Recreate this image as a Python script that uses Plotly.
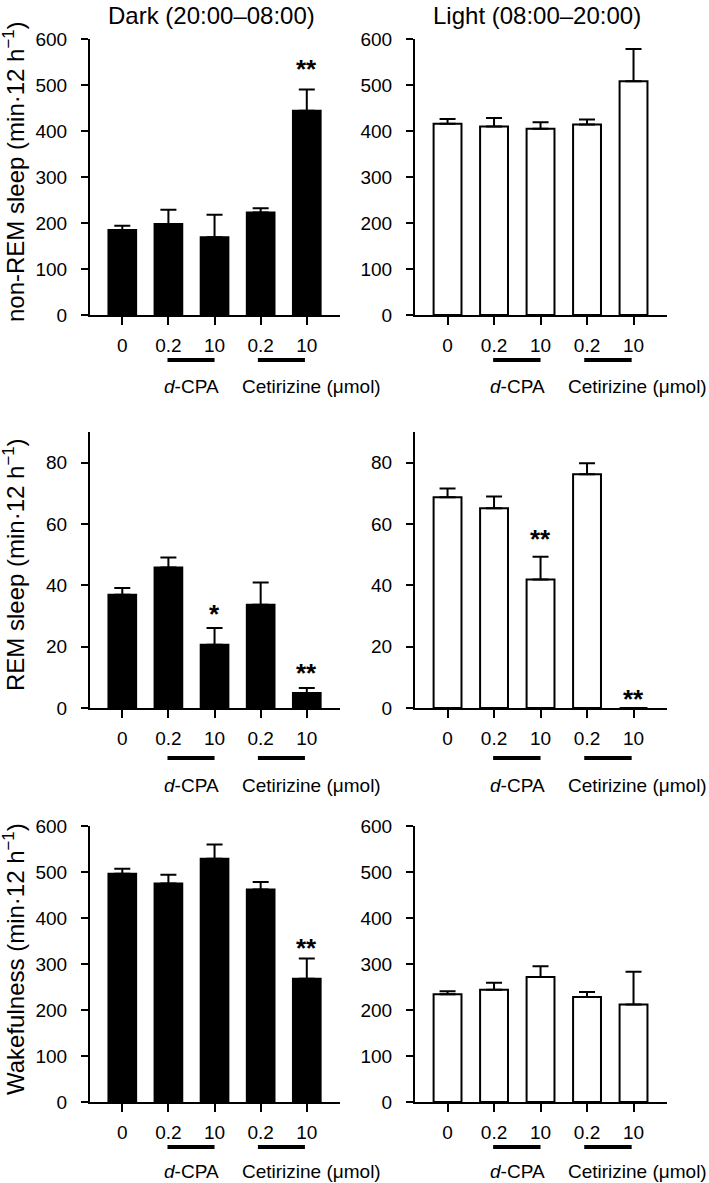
import plotly.graph_objects as go

W, H = 709, 1183

categories = [0, 1, 2, 3, 4]
tick_labels = ["0", "0.2", "10", "0.2", "10"]

nrem_dark = [185, 198, 169, 223, 444]
nrem_dark_err = [9, 31, 49, 9, 46]
nrem_light = [416, 410, 405, 414, 508]
nrem_light_err = [10, 18, 14, 11, 70]
rem_dark = [36.9, 45.8, 20.6, 33.7, 4.9]
rem_dark_err = [2.2, 3.3, 5.5, 7.2, 1.6]
rem_light = [68.7, 65.1, 41.9, 76.2, 0]
rem_light_err = [2.9, 3.9, 7.4, 3.6, 0]
wake_dark = [496, 475, 529, 462, 268]
wake_dark_err = [11, 19, 31, 16, 44]
wake_light = [234, 244, 272, 228, 212]
wake_light_err = [7, 15, 23, 11, 71]

col_titles = ["Dark (20:00–08:00)", "Light (08:00–20:00)"]
row_titles = ["non-REM sleep (min·12 h<sup>−1</sup>)",
              "REM sleep (min·12 h<sup>−1</sup>)",
              "Wakefulness (min·12 h<sup>−1</sup>)"]
y_ranges = [600, 90, 600]
y_dticks = [100, 20, 100]

panels = [
    (0, 0, nrem_dark, nrem_dark_err, [(4, "**", 21)]),
    (0, 1, nrem_light, nrem_light_err, []),
    (1, 0, rem_dark, rem_dark_err, [(2, "*", 14), (4, "**", 15)]),
    (1, 1, rem_light, rem_light_err, [(2, "**", 18), (4, "**", 9)]),
    (2, 0, wake_dark, wake_dark_err, [(4, "**", 10)]),
    (2, 1, wake_light, wake_light_err, []),
]

FONT = "Liberation Sans, Arial, sans-serif"
row_top = [39, 432, 826]
row_bot = [315, 708, 1102]
col_l = [90, 415]
col_r = [340, 667]
line_off = [45, 50, 45]
text_off = [72, 77, 69]


def py(p):
    return 1 - p / H


fig = go.Figure()
annotations = []
shapes = []
layout = {}

for i, (r, c, vals, errs, stars) in enumerate(panels):
    n = i + 1
    xa = "x" if n == 1 else f"x{n}"
    ya = "y" if n == 1 else f"y{n}"
    xkey = "xaxis" if n == 1 else f"xaxis{n}"
    ykey = "yaxis" if n == 1 else f"yaxis{n}"
    fill = "black" if c == 0 else "white"
    fig.add_trace(go.Bar(
        x=categories, y=vals, xaxis=xa, yaxis=ya, width=0.6,
        marker=dict(color=fill, line=dict(color="black", width=2)),
        error_y=dict(type="data", symmetric=False, array=errs,
                     arrayminus=[0] * len(errs), color="black",
                     thickness=2, width=8),
        showlegend=False, hoverinfo="skip",
    ))
    layout[xkey] = dict(
        domain=[col_l[c] / W, col_r[c] / W], anchor=ya, automargin=False,
        range=[-0.7, 4.72], tickmode="array", tickvals=categories,
        ticktext=tick_labels, showline=True, linecolor="black", linewidth=2,
        ticks="outside", ticklen=8, tickwidth=2, tickcolor="black",
        showgrid=False, zeroline=False, fixedrange=True,
        tickfont=dict(family=FONT, size=19, color="black"),
        ticklabelstandoff=4,
    )
    layout[ykey] = dict(
        domain=[py(row_bot[r]), py(row_top[r])], anchor=xa, automargin=False,
        range=[0, y_ranges[r]], dtick=y_dticks[r], tick0=0,
        showline=True, linecolor="black", linewidth=2,
        ticks="outside", ticklen=7, tickwidth=2, tickcolor="black",
        showgrid=False, zeroline=False, fixedrange=True,
        tickfont=dict(family=FONT, size=19, color="black"),
        ticklabelstandoff=10,
    )
    # group bars under the tick labels
    for x0, x1 in [(0.98, 2.0), (2.94, 3.96)]:
        shapes.append(dict(type="line", xref=xa, yref="paper",
                           x0=x0, x1=x1,
                           y0=py(row_bot[r] + line_off[r]),
                           y1=py(row_bot[r] + line_off[r]),
                           line=dict(color="black", width=4)))
    annotations.append(dict(text="<i>d</i>-CPA", xref=xa, yref="paper",
                            x=1.5, y=py(row_bot[r] + text_off[r]),
                            xanchor="center", yanchor="middle",
                            showarrow=False,
                            font=dict(family=FONT, size=19, color="black")))
    annotations.append(dict(text="Cetirizine (μmol)", xref=xa, yref="paper",
                            x=2.55, y=py(row_bot[r] + text_off[r]),
                            xanchor="left", yanchor="middle",
                            showarrow=False,
                            font=dict(family=FONT, size=19, color="black")))
    for idx, txt, shift in stars:
        annotations.append(dict(text=txt, xref=xa, yref=ya,
                                x=categories[idx], y=vals[idx] + errs[idx],
                                xanchor="center", yanchor="middle",
                                yshift=shift, showarrow=False,
                                font=dict(family=FONT, size=26, color="black",
                                          weight="bold")))
    if c == 0:
        annotations.append(dict(text=row_titles[r], xref="paper", yref="paper",
                                x=14 / W, y=py((row_top[r] + row_bot[r]) / 2 - 5),
                                xanchor="center", yanchor="middle",
                                textangle=-90, showarrow=False,
                                font=dict(family=FONT, size=24, color="black")))

for c in range(2):
    annotations.append(dict(text=col_titles[c], xref="paper", yref="paper",
                            x=(col_l[c] + col_r[c]) / 2 / W - 4 / W, y=py(0),
                            xanchor="center", yanchor="top",
                            showarrow=False,
                            font=dict(family=FONT, size=24, color="black")))

fig.update_layout(
    template="none",
    width=W, height=H, autosize=False,
    margin=dict(l=0, r=0, t=0, b=0, pad=0),
    paper_bgcolor="white", plot_bgcolor="white",
    font=dict(family=FONT, color="black"),
    annotations=annotations, shapes=shapes,
    bargap=0.37,
    **layout,
)

fig.write_html(
    "out.html",
    config={"displayModeBar": False},
    post_script="document.body.style.margin='0';document.body.style.padding='0';"
                "document.documentElement.style.overflow='hidden';",
)
